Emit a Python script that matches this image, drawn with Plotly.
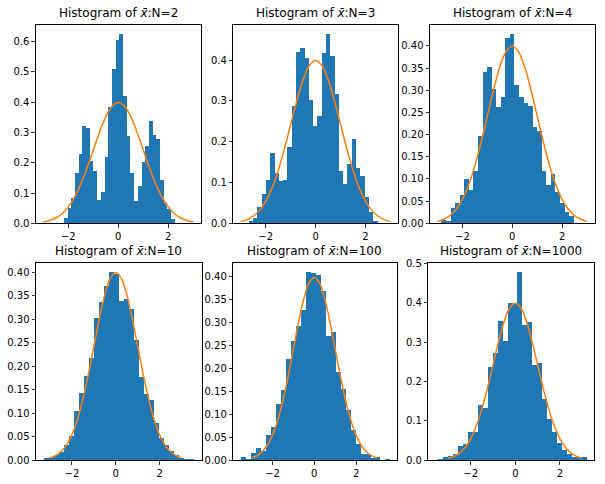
import plotly.graph_objects as go

# ---------------- data ----------------
titles = ["N=2", "N=3", "N=4", "N=10", "N=100", "N=1000"]

bin_starts = [-2.18, -2.68, -2.84, -3.29, -3.50, -3.47]
bin_widths = [0.148, 0.172, 0.183, 0.228, 0.238, 0.223]

heights_n2 = [0.018, 0.050, 0.083, 0.166, 0.229, 0.321, 0.314, 0.205, 0.173, 0.077,
              0.103, 0.219, 0.384, 0.509, 0.605, 0.624, 0.420, 0.288, 0.166, 0.074,
              0.123, 0.202, 0.255, 0.337, 0.291, 0.278, 0.143, 0.067, 0.047, 0.014]
heights_n3 = [0.006, 0.012, 0.040, 0.071, 0.106, 0.172, 0.124, 0.104, 0.106, 0.186,
              0.287, 0.420, 0.429, 0.405, 0.302, 0.238, 0.263, 0.417, 0.464, 0.410,
              0.317, 0.128, 0.096, 0.146, 0.207, 0.136, 0.116, 0.064, 0.028, 0.006]
heights_n4 = [0.007, 0.005, 0.035, 0.045, 0.064, 0.100, 0.075, 0.118, 0.197, 0.341,
              0.353, 0.303, 0.262, 0.285, 0.418, 0.427, 0.312, 0.285, 0.271, 0.265,
              0.217, 0.208, 0.117, 0.086, 0.111, 0.071, 0.046, 0.025, 0.017, 0.0]
heights_n10 = [0.004, 0.006, 0.011, 0.017, 0.032, 0.051, 0.104, 0.143, 0.179, 0.217,
               0.303, 0.337, 0.371, 0.400, 0.395, 0.339, 0.343, 0.322, 0.256, 0.177,
               0.141, 0.128, 0.079, 0.047, 0.032, 0.019, 0.011, 0.004, 0.002, 0.002]
heights_n100 = [0.007, 0.002, 0.015, 0.026, 0.020, 0.055, 0.072, 0.122, 0.153, 0.220,
                0.260, 0.292, 0.327, 0.410, 0.408, 0.404, 0.369, 0.271, 0.279, 0.192,
                0.155, 0.109, 0.065, 0.035, 0.013, 0.013, 0.004, 0.007, 0.0, 0.002]
heights_n1000 = [0.003, 0.008, 0.010, 0.015, 0.036, 0.041, 0.071, 0.071, 0.140, 0.132,
                 0.236, 0.272, 0.353, 0.303, 0.399, 0.399, 0.478, 0.343, 0.351, 0.242,
                 0.247, 0.155, 0.104, 0.071, 0.043, 0.025, 0.015, 0.008, 0.008, 0.008]

all_heights = [heights_n2, heights_n3, heights_n4, heights_n10, heights_n100, heights_n1000]

# standard normal density read at steps of 0.25 on [-3, 3]
curve_x = [-3.0, -2.75, -2.5, -2.25, -2.0, -1.75, -1.5, -1.25, -1.0, -0.75, -0.5, -0.25, 0.0,
           0.25, 0.5, 0.75, 1.0, 1.25, 1.5, 1.75, 2.0, 2.25, 2.5, 2.75, 3.0]
curve_y = [0.0044, 0.0091, 0.0175, 0.0317, 0.0540, 0.0863, 0.1295, 0.1826, 0.2420, 0.3011,
           0.3521, 0.3867, 0.3989, 0.3867, 0.3521, 0.3011, 0.2420, 0.1826, 0.1295, 0.0863,
           0.0540, 0.0317, 0.0175, 0.0091, 0.0044]

x_ranges = [[-3.3, 3.3], [-3.3, 3.3], [-3.3, 3.3], [-3.64, 3.92], [-3.87, 3.93], [-3.9, 3.54]]
y_ranges = [[0, 0.655], [0, 0.486], [0, 0.447], [0, 0.42], [0, 0.431], [0, 0.502]]
y_dticks = [0.1, 0.1, 0.05, 0.05, 0.05, 0.1]
y_formats = [".1f", ".1f", ".2f", ".2f", ".2f", ".1f"]
x_ticks = [-2, 0, 2]

# ---------------- layout (pixel boxes) ----------------
W, H = 605, 484
boxes = [  # x0, x1, ytop, ybottom in pixels
    (35.8, 200.8, 25.0, 223.3),
    (233.3, 398.0, 25.0, 223.3),
    (430.0, 594.5, 25.0, 223.3),
    (36.0, 201.7, 262.7, 460.0),
    (233.3, 396.5, 262.7, 460.0),
    (428.3, 594.3, 262.7, 460.0),
]

BLUE = "#1f77b4"
ORANGE = "#ff7f0e"
FONT = "DejaVu Sans"

fig = go.Figure()
layout = dict(
    width=W, height=H,
    margin=dict(l=0, r=0, t=0, b=0),
    paper_bgcolor="white", plot_bgcolor="white",
    showlegend=False, bargap=0,
    font=dict(family=FONT, size=10, color="black"),
    annotations=[],
)

for i in range(6):
    k = "" if i == 0 else str(i + 1)
    xa, ya = "x" + k, "y" + k
    w = bin_widths[i]
    centers = [bin_starts[i] + w * (j + 0.5) for j in range(len(all_heights[i]))]
    fig.add_trace(go.Bar(x=centers, y=all_heights[i], width=w,
                         marker=dict(color=BLUE, line=dict(width=0)),
                         xaxis=xa, yaxis=ya, hoverinfo="skip"))
    fig.add_trace(go.Scatter(x=curve_x, y=curve_y, mode="lines",
                             line=dict(color=ORANGE, width=1.5, shape="spline"),
                             xaxis=xa, yaxis=ya, hoverinfo="skip"))
    x0, x1, yt, yb = boxes[i]
    common = dict(showline=True, linecolor="black", linewidth=1, mirror=True,
                  ticks="outside", ticklen=3.5, tickwidth=0.8, tickcolor="black",
                  showgrid=False, zeroline=False, automargin=False,
                  tickfont=dict(family=FONT, size=10, color="black"))
    layout["xaxis" + k] = dict(domain=[x0 / W, x1 / W], range=x_ranges[i],
                               anchor=ya, tickvals=x_ticks, **common)
    layout["yaxis" + k] = dict(domain=[1 - yb / H, 1 - yt / H], range=y_ranges[i],
                               anchor=xa, dtick=y_dticks[i], tick0=0,
                               tickformat=y_formats[i], **common)
    layout["annotations"].append(dict(
        text="Histogram of <i>x̄</i>:" + titles[i],
        x=(x0 + x1) / 2 / W, y=1 - yt / H, xref="paper", yref="paper",
        xanchor="center", yanchor="bottom", yshift=3, showarrow=False,
        font=dict(family=FONT, size=12, color="black")))

fig.update_layout(**layout)
fig.write_html("out.html", config={"displayModeBar": False, "staticPlot": True},
               post_script="document.body.style.margin='0';document.body.style.overflow='hidden';")
